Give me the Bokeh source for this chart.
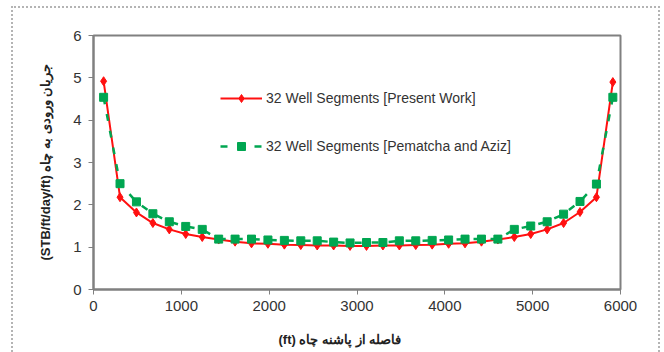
from bokeh.plotting import figure
from bokeh.models import (Range1d, FixedTicker, Legend, LegendItem, Title, InlineStyleSheet)
from bokeh.embed import file_html
from bokeh.resources import INLINE

# Distance from well heel (ft)
x_ft = [115, 302, 489, 676, 863, 1050, 1238, 1425, 1612, 1799, 1986, 2173,
        2360, 2547, 2734, 2921, 3108, 3295, 3482, 3669, 3856, 4043, 4230, 4417,
        4604, 4791, 4978, 5165, 5352, 5539, 5726, 5913]

# Inflow (STB/ft/day/ft) - present work
present_work = [4.92, 2.18, 1.82, 1.57, 1.42, 1.31, 1.24, 1.18, 1.13, 1.09, 1.08, 1.06,
                1.05, 1.04, 1.04, 1.03, 1.03, 1.04, 1.04, 1.05, 1.06, 1.08, 1.09, 1.13,
                1.18, 1.24, 1.31, 1.42, 1.57, 1.83, 2.18, 4.90]

# Inflow (STB/ft/day/ft) - Pematcha and Aziz
pematcha_aziz = [4.54, 2.50, 2.07, 1.79, 1.60, 1.49, 1.42, 1.19, 1.19, 1.19, 1.17, 1.16,
                 1.15, 1.15, 1.12, 1.10, 1.11, 1.11, 1.15, 1.15, 1.16, 1.17, 1.19, 1.19,
                 1.19, 1.42, 1.50, 1.60, 1.78, 2.08, 2.49, 4.54]

x_ticks = [0, 1000, 2000, 3000, 4000, 5000, 6000]
y_ticks = [0, 1, 2, 3, 4, 5, 6]

label_present = "32 Well Segments [Present Work]"
label_pa = "32 Well Segments [Pematcha and Aziz]"
x_title = "(ft) فاصله از پاشنه چاه"
y_title = "(STB/ft/day/ft) جریان ورودی به چاه"

RED = "#ff1010"
GREEN = "#00a651"
FONT = "Liberation Sans"

p = figure(width=664, height=352, output_backend="svg", toolbar_location=None,
           x_range=Range1d(0, 6000), y_range=Range1d(0, 6),
           min_border_left=93, min_border_right=44, min_border_top=35, min_border_bottom=63)
p.background_fill_color = "white"
p.border_fill_color = "white"
p.outline_line_color = "#808080"
p.outline_line_width = 2
p.xgrid.visible = False
p.ygrid.visible = False

for ax in (p.xaxis[0], p.yaxis[0]):
    ax.axis_line_color = "#808080"
    ax.axis_line_width = 2
    ax.major_tick_line_color = "#808080"
    ax.major_tick_line_width = 1
    ax.major_tick_in = 0
    ax.major_tick_out = 5
    ax.minor_tick_line_color = None
    ax.major_label_text_font = FONT
    ax.major_label_text_font_size = "15px"
    ax.major_label_text_color = "#333333"
p.xaxis[0].ticker = FixedTicker(ticks=x_ticks)
p.yaxis[0].ticker = FixedTicker(ticks=y_ticks)
p.xaxis[0].major_label_standoff = 6
p.yaxis[0].major_label_standoff = 7
# spacer label so the title below sits lower
p.xaxis[0].axis_label = " "
p.xaxis[0].axis_label_text_font_size = "4px"
p.xaxis[0].axis_label_standoff = 7

r_line = p.line(x_ft, present_work, line_color=RED, line_width=2)
r_pts = p.scatter(x_ft, present_work, marker="diamond", size=9, fill_color=RED, line_color=RED)
g_line = p.line(x_ft, pematcha_aziz, line_color=GREEN, line_width=2.5, line_dash="7 10")
g_pts = p.scatter(x_ft, pematcha_aziz, marker="square", size=8, fill_color=GREEN, line_color=GREEN)

legend = Legend(items=[LegendItem(label=label_present, renderers=[r_line, r_pts]),
                       LegendItem(label=label_pa, renderers=[g_line, g_pts])],
                location=(127, 133), orientation="vertical",
                border_line_color=None, background_fill_alpha=0,
                padding=5, spacing=28, glyph_width=42, glyph_height=20,
                label_height=20, label_standoff=4, margin=0,
                label_text_font=FONT, label_text_font_size="14px",
                label_text_color="#333333")
p.add_layout(legend, "center")

yt = Title(text=y_title, align="left", offset=29, text_font=FONT,
           text_font_size="13px", text_font_style="bold", text_color="#222222", standoff=36)
p.add_layout(yt, "left")
xt = Title(text=x_title, align="left", offset=185, text_font=FONT,
           text_font_size="13px", text_font_style="bold", text_color="#222222", standoff=2)
p.add_layout(xt, "below")

p.stylesheets = [InlineStyleSheet(css=(
    ":host { position: relative; }"
    ":host::after { content: ''; position: absolute; left: 11px; top: 6px; right: 4px;"
    " bottom: -12px; border: 2px dotted #b4b4b4; pointer-events: none; }"))]

open("out.html", "w").write(file_html(p, INLINE))
